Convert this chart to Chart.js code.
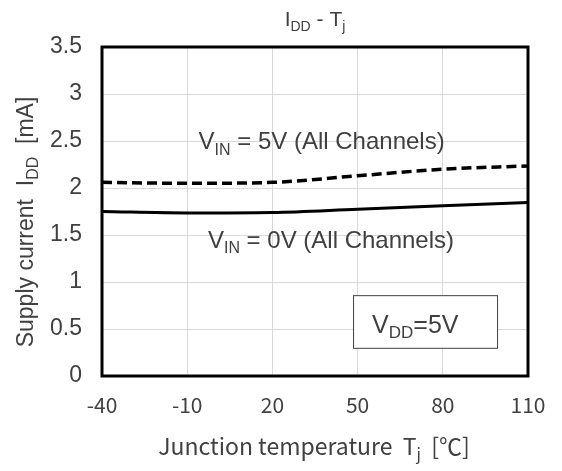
<!DOCTYPE html>
<html>
<head>
<meta charset="utf-8">
<script src="https://cdn.jsdelivr.net/npm/chart.js"></script>
<style>
  body { margin: 0; background: #fff; }
  #wrap { width: 562px; height: 471px; }
</style>
</head>
<body>
<div id="wrap"><canvas id="myChart" width="562" height="471"></canvas></div>
<script>
// data
var temps = [-40, -10, 20, 50, 80, 110];
var vin5 = [2.06, 2.05, 2.06, 2.13, 2.20, 2.235];
var vin0 = [1.75, 1.735, 1.74, 1.775, 1.81, 1.845];
var xTicks = [-40, -10, 20, 50, 80, 110];
var yTicks = [0, 0.5, 1, 1.5, 2, 2.5, 3, 3.5];

var ARIAL = '"Liberation Sans", Arial, sans-serif';
var JP = '"Noto Sans CJK JP", "Liberation Sans", sans-serif';
var TXT = '#404040';

// draw text made of parts, some of them subscript
function richText(ctx, parts, x, y, size, font, align) {
    var subSize = Math.round(size * 0.68);
    var w = 0;
    parts.forEach(function(p) {
        ctx.font = (p.sub ? subSize : size) + 'px ' + font;
        p.w = ctx.measureText(p.t).width;
        w += p.w;
    });
    var sx = x;
    if (align === 'center') sx = x - w / 2;
    if (align === 'right') sx = x - w;
    ctx.textBaseline = 'alphabetic';
    ctx.textAlign = 'left';
    parts.forEach(function(p) {
        ctx.font = (p.sub ? subSize : size) + 'px ' + font;
        ctx.fillText(p.t, sx, p.sub ? y + size * 0.22 : y);
        sx += p.w;
    });
    return w;
}

var decor = {
    id: 'decor',
    afterDraw: function(chart) {
        var ctx = chart.ctx;
        var a = chart.chartArea;
        var xs = chart.scales.x, ys = chart.scales.y;
        ctx.save();

        // frame
        ctx.strokeStyle = '#000';
        ctx.lineWidth = 3;
        ctx.strokeRect(a.left, a.top, a.right - a.left, a.bottom - a.top);

        ctx.fillStyle = TXT;
        // title
        richText(ctx, [{t: 'I'}, {t: 'DD', sub: true}, {t: ' - T'}, {t: 'j', sub: true}],
            (a.left + a.right) / 2, 26, 21, ARIAL, 'center');

        // x title
        richText(ctx, [{t: 'Junction temperature  T'}, {t: 'j', sub: true}, {t: '  [℃]'}],
            (a.left + a.right) / 2 - 1, 455, 23, JP, 'center');

        // y title (rotated)
        ctx.save();
        ctx.translate(33, 222);
        ctx.rotate(-Math.PI / 2);
        richText(ctx, [{t: 'Supply current  I'}, {t: 'DD', sub: true}, {t: '  [mA]'}],
            0, 0, 23, ARIAL, 'center');
        ctx.restore();

        // curve labels
        richText(ctx, [{t: 'V'}, {t: 'IN', sub: true}, {t: ' = 5V (All Channels)'}],
            xs.getPixelForValue(-6), ys.getPixelForValue(2.41), 24, ARIAL, 'left');
        richText(ctx, [{t: 'V'}, {t: 'IN', sub: true}, {t: ' = 0V (All Channels)'}],
            xs.getPixelForValue(-2.7), ys.getPixelForValue(1.36), 24, ARIAL, 'left');

        // VDD box
        var bx = xs.getPixelForValue(48.4), bx2 = xs.getPixelForValue(99.1);
        var by = ys.getPixelForValue(0.86), by2 = ys.getPixelForValue(0.3);
        ctx.fillStyle = '#fff';
        ctx.fillRect(bx, by, bx2 - bx, by2 - by);
        ctx.strokeStyle = '#404040';
        ctx.lineWidth = 1;
        ctx.strokeRect(bx + 0.5, by + 0.5, bx2 - bx, by2 - by);
        ctx.fillStyle = TXT;
        richText(ctx, [{t: 'V'}, {t: 'DD', sub: true}, {t: '=5V'}],
            xs.getPixelForValue(55.1), ys.getPixelForValue(0.46), 25, ARIAL, 'left');

        ctx.restore();
    }
};

var ctx = document.getElementById('myChart').getContext('2d');
var myChart = new Chart(ctx, {
    type: 'line',
    data: {
        datasets: [{
            label: 'VIN = 5V',
            data: temps.map(function(t, i) { return {x: t, y: vin5[i]}; }),
            borderColor: '#000',
            borderWidth: 3.5,
            borderDash: [10, 5],
            pointRadius: 0,
            cubicInterpolationMode: 'monotone',
            fill: false
        }, {
            label: 'VIN = 0V',
            data: temps.map(function(t, i) { return {x: t, y: vin0[i]}; }),
            borderColor: '#000',
            borderWidth: 3,
            pointRadius: 0,
            cubicInterpolationMode: 'monotone',
            fill: false
        }]
    },
    options: {
        responsive: false,
        animation: false,
        layout: { padding: { top: 47, right: 34, left: 0, bottom: 0 } },
        plugins: {
            legend: { display: false },
            title: { display: false },
            tooltip: { enabled: false }
        },
        scales: {
            x: {
                type: 'linear',
                min: -40,
                max: 110,
                afterBuildTicks: function(s) { s.ticks = xTicks.map(function(v) { return {value: v}; }); },
                afterFit: function(s) { s.height = 95; },
                grid: { color: '#d9d9d9', lineWidth: 1, drawTicks: false },
                border: { display: false },
                ticks: { padding: 16, color: TXT, font: { family: JP, size: 21 },
                    callback: function(v) { return String(v); } }
            },
            y: {
                min: 0,
                max: 3.5,
                afterBuildTicks: function(s) { s.ticks = yTicks.map(function(v) { return {value: v}; }); },
                afterFit: function(s) { s.width = 102; },
                grid: { color: '#d9d9d9', lineWidth: 1, drawTicks: false },
                border: { display: false },
                ticks: { padding: 20, color: TXT, font: { family: ARIAL, size: 23 },
                    callback: function(v) { return String(v); } }
            }
        }
    },
    plugins: [decor]
});
</script>
</body>
</html>
